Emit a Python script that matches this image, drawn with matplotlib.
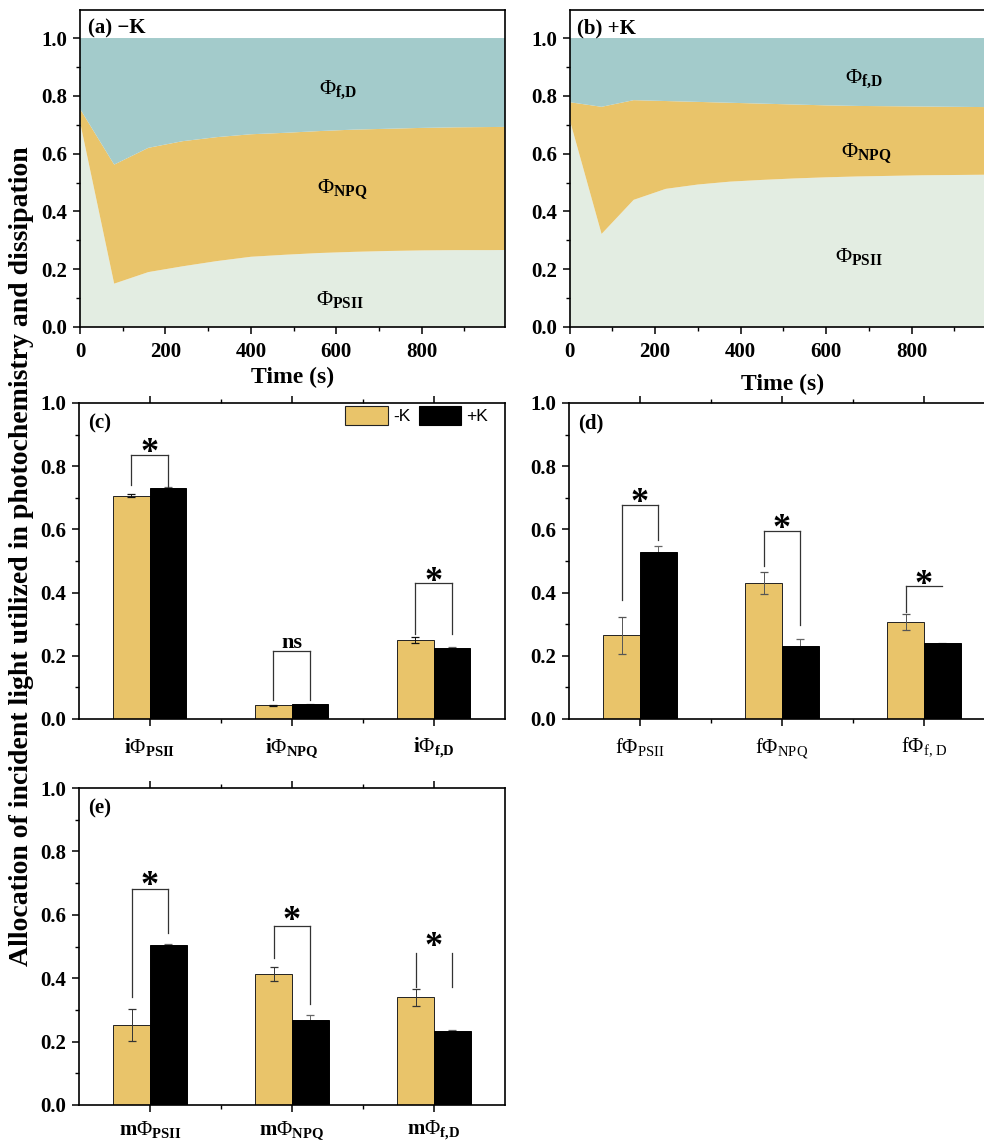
import matplotlib
matplotlib.use("Agg")
import matplotlib.pyplot as plt
from matplotlib.ticker import MultipleLocator, FixedLocator
from matplotlib.patches import Patch
import numpy as np

plt.rcParams['font.family'] = ['Liberation Serif', 'DejaVu Serif']
plt.rcParams['mathtext.fontset'] = 'custom'
plt.rcParams['mathtext.rm'] = 'Liberation Serif'
plt.rcParams['mathtext.bf'] = 'Liberation Serif:bold'
plt.rcParams['mathtext.it'] = 'Liberation Serif:italic'

# ---------------- data ----------------
# panel (a) -K time course
time_a = [0, 80, 160, 240, 320, 400, 480, 560, 640, 720, 800, 880, 960, 1040]
psii_a = [0.71, 0.15, 0.19, 0.21, 0.228, 0.243, 0.25, 0.256, 0.26, 0.263, 0.265, 0.266, 0.266, 0.267]
npq_a = [0.045, 0.412, 0.43, 0.433, 0.429, 0.424, 0.422, 0.422, 0.423, 0.423, 0.424, 0.425, 0.426, 0.426]
fd_a = [0.245, 0.438, 0.38, 0.357, 0.343, 0.333, 0.328, 0.322, 0.317, 0.314, 0.311, 0.309, 0.308, 0.307]

# panel (b) +K time course
time_b = [0, 75, 150, 225, 300, 375, 450, 525, 600, 675, 750, 825, 900, 975, 1050]
psii_b = [0.72, 0.322, 0.44, 0.478, 0.493, 0.503, 0.509, 0.514, 0.518, 0.521, 0.523, 0.525, 0.526, 0.527, 0.528]
npq_b = [0.058, 0.44, 0.345, 0.304, 0.286, 0.273, 0.264, 0.256, 0.249, 0.244, 0.241, 0.238, 0.236, 0.234, 0.233]
fd_b = [0.222, 0.238, 0.215, 0.218, 0.221, 0.224, 0.227, 0.23, 0.233, 0.235, 0.236, 0.237, 0.238, 0.239, 0.239]

# bar panels
groups = ['-K', '+K']
c_labels = [r'i$\Phi_{\mathbf{PSII}}$', r'i$\Phi_{\mathbf{NPQ}}$', r'i$\Phi_{\mathbf{f{,}D}}$']
c_minus = [0.707, 0.043, 0.25]
c_minus_err = [0.005, 0.002, 0.008]
c_plus = [0.731, 0.046, 0.224]
c_plus_err = [0.003, 0.001, 0.004]

d_labels = [r'f$\Phi_{\mathrm{PSII}}$', r'f$\Phi_{\mathrm{NPQ}}$', r'f$\Phi_{\mathrm{f,\,D}}$']
d_minus = [0.265, 0.43, 0.308]
d_minus_err = [0.058, 0.036, 0.025]
d_plus = [0.528, 0.232, 0.24]
d_plus_err = [0.02, 0.022, 0.002]

e_labels = [r'm$\Phi_{\mathbf{PSII}}$', r'm$\Phi_{\mathbf{NPQ}}$', r'm$\Phi_{\mathbf{f{,}D}}$']
e_minus = [0.252, 0.412, 0.34]
e_minus_err = [0.05, 0.022, 0.027]
e_plus = [0.506, 0.268, 0.235]
e_plus_err = [0.003, 0.016, 0.002]

# significance brackets: top, left-leg bottom, right-leg bottom, text, text y, draw top line
c_sig = dict(top=[0.835, 0.216, 0.43], left=[0.74, 0.06, 0.27], right=[0.735, 0.06, 0.27],
             text=['*', 'ns', '*'], ty=[0.87, 0.225, 0.462], bar=[True, True, True])
d_sig = dict(top=[0.676, 0.594, 0.42], left=[0.378, 0.483, 0.34], right=[0.568, 0.298, 0.42],
             text=['*', '*', '*'], ty=[0.712, 0.63, 0.452], bar=[True, True, True])
e_sig = dict(top=[0.68, 0.566, 0.48], left=[0.34, 0.464, 0.373], right=[0.543, 0.32, 0.373],
             text=['*', '*', '*'], ty=[0.72, 0.61, 0.527], bar=[True, True, False])

# ---------------- style ----------------
C_FD = '#A3CBCB'
C_NPQ = '#E9C46A'
C_PSII = '#E3EDE2'
C_MINUS = '#E9C46A'
C_PLUS = '#000000'

W, H = 984, 1142
fig = plt.figure(figsize=(W / 100, H / 100), dpi=100)


def rect(l, t, r, b):
    return [l / W, 1 - b / H, (r - l) / W, (b - t) / H]


TICK_FS = 15
LW = 1.2


def style_axes(ax):
    for s in ax.spines.values():
        s.set_linewidth(LW)
    ax.tick_params(which='major', direction='out', length=5, width=1.1, labelsize=TICK_FS, pad=4)
    ax.tick_params(which='minor', direction='out', length=3, width=1.0)
    for lab in ax.get_yticklabels():
        lab.set_fontweight('bold')


def time_panel(ax, t, psii, npq, fd, label, lab_pos, xlabel_pad):
    ax.stackplot(t, psii, npq, fd, colors=[C_PSII, C_NPQ, C_FD], linewidth=0)
    ax.set_xlim(0, 995)
    ax.set_ylim(0, 1.097)
    ax.xaxis.set_major_locator(MultipleLocator(200))
    ax.xaxis.set_minor_locator(MultipleLocator(100))
    ax.yaxis.set_major_locator(FixedLocator([0, 0.2, 0.4, 0.6, 0.8, 1.0]))
    ax.yaxis.set_minor_locator(FixedLocator([0.1, 0.3, 0.5, 0.7, 0.9]))
    ax.set_yticklabels(['0.0', '0.2', '0.4', '0.6', '0.8', '1.0'])
    ax.set_xticks([0, 200, 400, 600, 800])
    ax.set_xticklabels(['0', '200', '400', '600', '800'])
    style_axes(ax)
    ax.tick_params(axis='x', which='major', pad=6)
    for lab in ax.get_xticklabels():
        lab.set_fontweight('bold')
    ax.set_xlabel('Time (s)', fontsize=17, fontweight='bold', labelpad=xlabel_pad)
    ax.text(0.018, 1.0, label, transform=ax.get_yaxis_transform(), fontsize=15,
            fontweight='bold', ha='left', va='bottom')
    names = [r'$\Phi_{\mathbf{f{,}D}}$', r'$\Phi_{\mathbf{NPQ}}$', r'$\Phi_{\mathbf{PSII}}$']
    for (x, y), n in zip(lab_pos, names):
        ax.text(x, y, n, fontsize=16, fontweight='bold', ha='center', va='center')


ax_a = fig.add_axes(rect(80, 10, 505, 327))
time_panel(ax_a, time_a, psii_a, npq_a, fd_a, '(a) \u2212K',
           [(604, 0.82), (613, 0.475), (610, 0.095)], 3)
ax_b = fig.add_axes(rect(569.5, 10, 995, 327))
time_panel(ax_b, time_b, psii_b, npq_b, fd_b, '(b) +K',
           [(689, 0.86), (695, 0.6), (677, 0.245)], 8)

BW = 0.26


def bar_panel(ax, labels, minus, minus_err, plus, plus_err, sig, panel_label, bold_ticks, ecol, xpad):
    x = np.arange(len(labels))
    ax.bar(x - BW / 2, minus, BW, color=C_MINUS, edgecolor='#222222', linewidth=0.7, label=groups[0], zorder=2)
    ax.bar(x + BW / 2, plus, BW, color=C_PLUS, edgecolor='#000000', linewidth=0.7, label=groups[1], zorder=2)
    ax.errorbar(x - BW / 2, minus, yerr=minus_err, fmt='none', ecolor=ecol, elinewidth=0.7,
                capsize=3, capthick=0.9, zorder=3)
    ax.errorbar(x + BW / 2, plus, yerr=plus_err, fmt='none', ecolor='#666666', elinewidth=0.7,
                capsize=3, capthick=0.9, zorder=1)
    ax.set_xlim(-0.5, 2.5)
    ax.set_ylim(0, 1.0)
    ax.set_xticks(x)
    ax.set_xticklabels(labels)
    ax.xaxis.set_minor_locator(FixedLocator([0.5, 1.5]))
    ax.yaxis.set_major_locator(FixedLocator([0, 0.2, 0.4, 0.6, 0.8, 1.0]))
    ax.yaxis.set_minor_locator(FixedLocator([0.1, 0.3, 0.5, 0.7, 0.9]))
    ax.set_yticklabels(['0.0', '0.2', '0.4', '0.6', '0.8', '1.0'])
    style_axes(ax)
    ax.tick_params(axis='x', which='both', top=True)
    ax.tick_params(axis='x', which='major', labelsize=15, pad=xpad)
    for lab in ax.get_xticklabels():
        lab.set_fontweight('bold' if bold_ticks else 'normal')
    for i in range(len(labels)):
        xl, xr = i - BW / 2, i + BW / 2
        top = sig['top'][i]
        ax.plot([xl, xl], [sig['left'][i], top], color='#333333', lw=0.9, zorder=4)
        ax.plot([xr, xr], [sig['right'][i], top], color='#333333', lw=0.9, zorder=4)
        if sig['bar'][i]:
            ax.plot([xl, xr], [top, top], color='#333333', lw=0.9, zorder=4)
        txt = sig['text'][i]
        if txt == '*':
            ax.annotate('*', xy=(i, sig['ty'][i]), xytext=(0, -13), textcoords='offset points',
                        ha='center', va='baseline', fontsize=26, fontweight='bold')
        else:
            ax.text(i, sig['ty'][i], txt, ha='center', va='baseline', fontsize=16, fontweight='bold')
    ax.text(0.022, 0.935, panel_label, transform=ax.transAxes, fontsize=15, fontweight='bold',
            ha='left', va='center')


ax_c = fig.add_axes(rect(78.5, 403, 504.5, 719))
bar_panel(ax_c, c_labels, c_minus, c_minus_err, c_plus, c_plus_err, c_sig, '(c)', True, '#111111', 7)
handles = [Patch(facecolor=C_MINUS, edgecolor='#222222', linewidth=0.8, label=groups[0]),
           Patch(facecolor=C_PLUS, edgecolor='#000000', linewidth=0.8, label=groups[1])]
ax_c.legend(handles=handles, loc='upper right', bbox_to_anchor=(0.962, 0.99), ncol=2,
            frameon=False, handlelength=2.45, handleheight=1.25, handletextpad=0.3,
            columnspacing=0.5, borderpad=0.0, borderaxespad=0.0,
            prop={'family': 'Liberation Sans', 'size': 12.5})

ax_d = fig.add_axes(rect(569, 403, 995, 719))
bar_panel(ax_d, d_labels, d_minus, d_minus_err, d_plus, d_plus_err, d_sig, '(d)', False, '#555555', 7)

ax_e = fig.add_axes(rect(79, 788, 505, 1105))
bar_panel(ax_e, e_labels, e_minus, e_minus_err, e_plus, e_plus_err, e_sig, '(e)', True, '#333333', 5)

fig.text(0.022, 0.513, 'Allocation of incident light utilized in photochemistry and dissipation',
         rotation=90, ha='center', va='center', fontsize=20, fontweight='bold')

fig.savefig('out.png', dpi=100)
